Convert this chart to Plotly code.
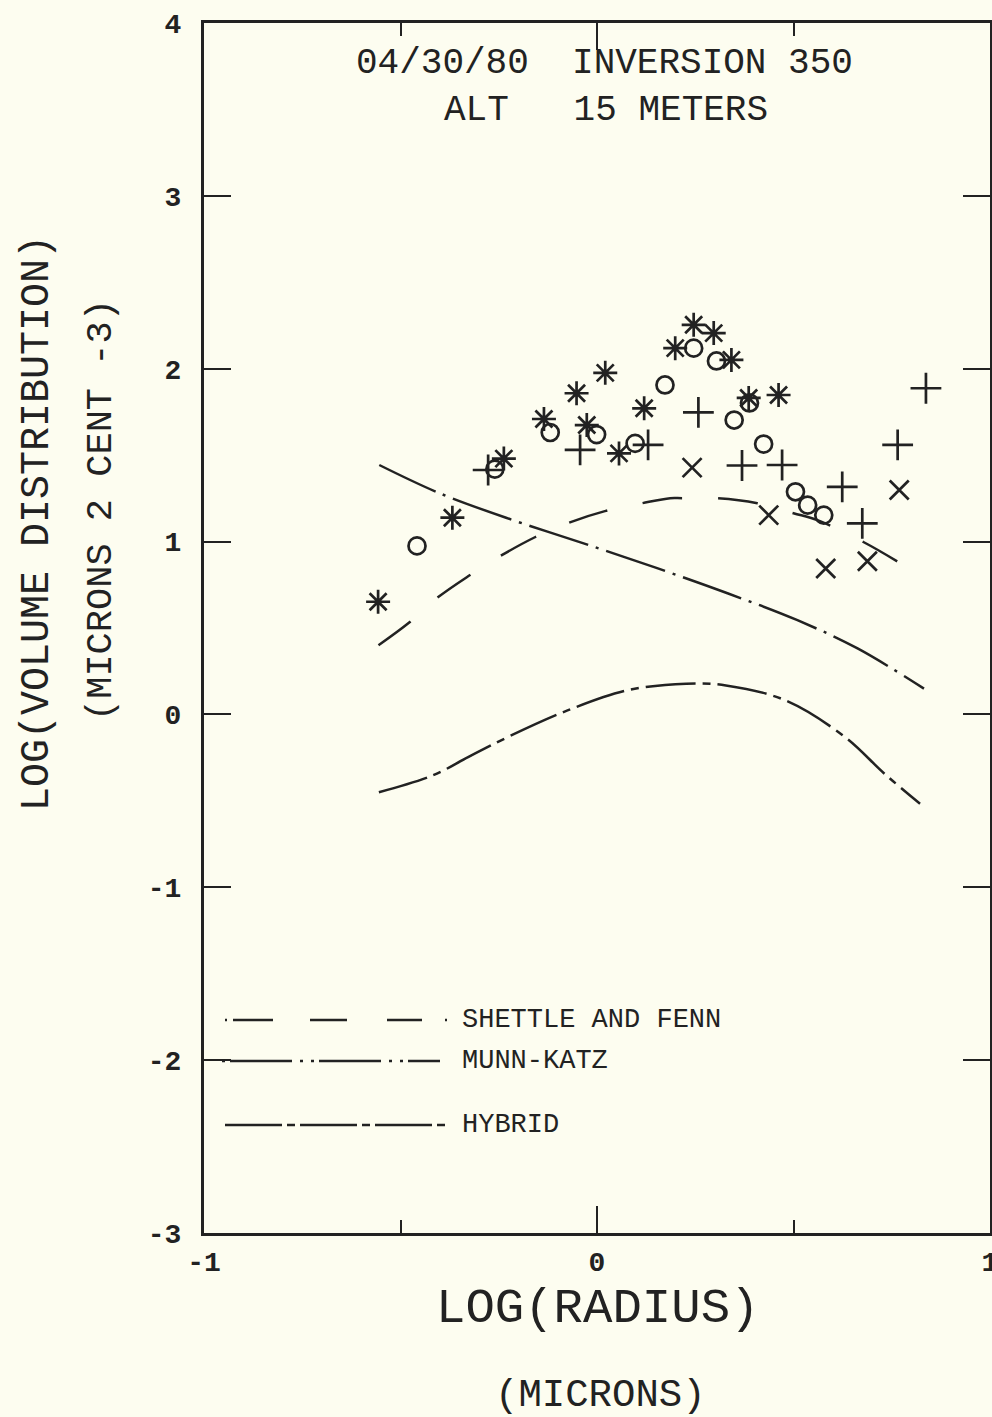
import plotly.graph_objects as go

# ---- measured points (log radius, log volume distribution) ----
star_x = [-0.557, -0.368, -0.237, -0.135, -0.052, -0.026, 0.021, 0.056, 0.120, 0.199, 0.246, 0.297, 0.342, 0.386, 0.462]
star_y = [0.652, 1.138, 1.480, 1.709, 1.858, 1.674, 1.976, 1.510, 1.771, 2.119, 2.254, 2.206, 2.051, 1.831, 1.848]

circle_x = [-0.458, -0.260, -0.119, -0.001, 0.097, 0.173, 0.246, 0.304, 0.349, 0.388, 0.424, 0.505, 0.536, 0.577]
circle_y = [0.975, 1.419, 1.631, 1.619, 1.568, 1.906, 2.119, 2.045, 1.703, 1.802, 1.564, 1.288, 1.211, 1.153]

plus_x = [-0.277, -0.043, 0.130, 0.258, 0.369, 0.471, 0.624, 0.675, 0.765, 0.837]
plus_y = [1.414, 1.530, 1.559, 1.747, 1.440, 1.443, 1.317, 1.105, 1.559, 1.887]

cross_x = [0.242, 0.437, 0.582, 0.688, 0.769]
cross_y = [1.428, 1.153, 0.844, 0.886, 1.298]

# ---- model curves ----
shettle_x = [-0.556, -0.477, -0.408, -0.324, -0.247, -0.158, -0.074, 0.020, 0.115, 0.186,
             0.217, 0.306, 0.408, 0.500, 0.561, 0.679, 0.768]
shettle_y = [0.400, 0.533, 0.672, 0.805, 0.915, 1.025, 1.107, 1.176, 1.222, 1.251,
             1.251, 1.251, 1.222, 1.164, 1.124, 0.996, 0.880]

munn_x = [-0.554, -0.401, -0.214, -0.036, 0.153, 0.332, 0.510, 0.663, 0.832]
munn_y = [1.443, 1.280, 1.124, 0.991, 0.846, 0.701, 0.545, 0.382, 0.149]

hybrid_x = [-0.555, -0.418, -0.328, -0.227, -0.075, 0.076, 0.227, 0.328, 0.480, 0.631, 0.732, 0.822]
hybrid_y = [-0.450, -0.353, -0.247, -0.131, 0.023, 0.139, 0.178, 0.168, 0.081, -0.131, -0.344, -0.517]

x_ticks = [-1, 0, 1]
x_tick_labels = ["-1", "0", "1"]
y_ticks = [-3, -2, -1, 0, 1, 2, 3, 4]
y_tick_labels = ["-3", "-2", "-1", "0", "1", "2", "3", "4"]

legend_names = ["SHETTLE AND FENN", "MUNN-KATZ", "HYBRID"]

INK = "#222222"
PAPER = "#fdfdf0"
FONT = "Liberation Mono"

W, H = 992, 1417
L, R, T, B = 204, 2, 23, 184
PW, PH = W - L - R, H - T - B


def px(xp):
    return (xp - L) / PW


def py(yp):
    return (H - B - yp) / PH


SHETTLE_DASH = "40px,36px"
MUNN_DASH = "62px,8px,3px,8px"
HYBRID_DASH = "50px,7px,8px,7px"

fig = go.Figure()

fig.add_trace(go.Scatter(x=shettle_x, y=shettle_y, mode="lines", line_shape="spline",
                         line=dict(color=INK, width=2.5, dash=SHETTLE_DASH)))
fig.add_trace(go.Scatter(x=munn_x, y=munn_y, mode="lines", line_shape="spline",
                         line=dict(color=INK, width=2.5, dash=MUNN_DASH)))
fig.add_trace(go.Scatter(x=hybrid_x, y=hybrid_y, mode="lines", line_shape="spline",
                         line=dict(color=INK, width=2.5, dash=HYBRID_DASH)))

marker_line = dict(color=INK, width=2.7)
fig.add_trace(go.Scatter(x=star_x, y=star_y, mode="markers",
                         marker=dict(symbol="asterisk-open", size=20, color=INK, line=marker_line)))
fig.add_trace(go.Scatter(x=circle_x, y=circle_y, mode="markers",
                         marker=dict(symbol="circle-open", size=17, color=INK, line=marker_line)))
fig.add_trace(go.Scatter(x=plus_x, y=plus_y, mode="markers",
                         marker=dict(symbol="cross-thin-open", size=22, color=INK, line=marker_line)))
fig.add_trace(go.Scatter(x=cross_x, y=cross_y, mode="markers",
                         marker=dict(symbol="x-thin-open", size=19, color=INK, line=marker_line)))

# legend key lines
shapes = []
key_rows = [
    (1020, 225, 447, "2px,6px,40px,37px,37px,40px,35px,23px,2px"),
    (1061, 222, 440, "3px,5px," + MUNN_DASH),
    (1125, 225, 448, "57px,5px,8px,5px"),
]
for yp, x0, x1, dash in key_rows:
    shapes.append(dict(type="line", xref="paper", yref="paper",
                       x0=px(x0), x1=px(x1), y0=py(yp), y1=py(yp),
                       line=dict(color=INK, width=2.5, dash=dash)))

annotations = []
for (yp, _, _, _), name in zip(key_rows, legend_names):
    annotations.append(dict(text=name, xref="paper", yref="paper", x=px(460), y=py(yp),
                            xanchor="left", yanchor="middle", showarrow=False,
                            font=dict(family=FONT, size=27, color=INK)))

annotations += [
    dict(text="04/30/80  INVERSION 350", xref="paper", yref="paper", x=px(604), y=py(63),
         xanchor="center", yanchor="middle", showarrow=False,
         font=dict(family=FONT, size=36, color=INK)),
    dict(text="ALT   15 METERS", xref="paper", yref="paper", x=px(606), y=py(110),
         xanchor="center", yanchor="middle", showarrow=False,
         font=dict(family=FONT, size=36, color=INK)),
    dict(text="LOG(VOLUME DISTRIBUTION)", xref="paper", yref="paper", x=px(37), y=py(523),
         xanchor="center", yanchor="middle", textangle=-90, showarrow=False,
         font=dict(family=FONT, size=40, color=INK)),
    dict(text="(MICRONS 2 CENT -3)", xref="paper", yref="paper", x=px(101), y=py(510),
         xanchor="center", yanchor="middle", textangle=-90, showarrow=False,
         font=dict(family=FONT, size=37, color=INK)),
    dict(text="LOG(RADIUS)", xref="paper", yref="paper", x=px(597), y=py(1309),
         xanchor="center", yanchor="middle", showarrow=False,
         font=dict(family=FONT, size=49, color=INK)),
    dict(text="(MICRONS)", xref="paper", yref="paper", x=px(600), y=py(1396),
         xanchor="center", yanchor="middle", showarrow=False,
         font=dict(family=FONT, size=39, color=INK)),
]

axis_common = dict(showgrid=False, zeroline=False, showline=True, linecolor=INK, linewidth=3,
                   mirror="ticks", ticks="inside", tickcolor=INK, tickwidth=2,
                   ticklabeloverflow="allow",
                   tickfont=dict(family=FONT, size=28, color=INK, weight="bold"))

fig.update_layout(
    width=W, height=H,
    margin=dict(l=L, r=R, t=T, b=B, autoexpand=False),
    paper_bgcolor=PAPER, plot_bgcolor=PAPER,
    showlegend=False,
    shapes=shapes,
    annotations=annotations,
    xaxis=dict(range=[-1, 1], tickvals=x_ticks, ticktext=x_tick_labels, ticklen=27,
               ticklabelstandoff=1,
               minor=dict(ticks="inside", ticklen=13, tickwidth=2, tickcolor=INK, dtick=0.5),
               **axis_common),
    yaxis=dict(range=[-3, 4], tickvals=y_ticks, ticktext=y_tick_labels, ticklen=27,
               ticklabelstandoff=14, **axis_common),
)

fig.write_html("out.html")
